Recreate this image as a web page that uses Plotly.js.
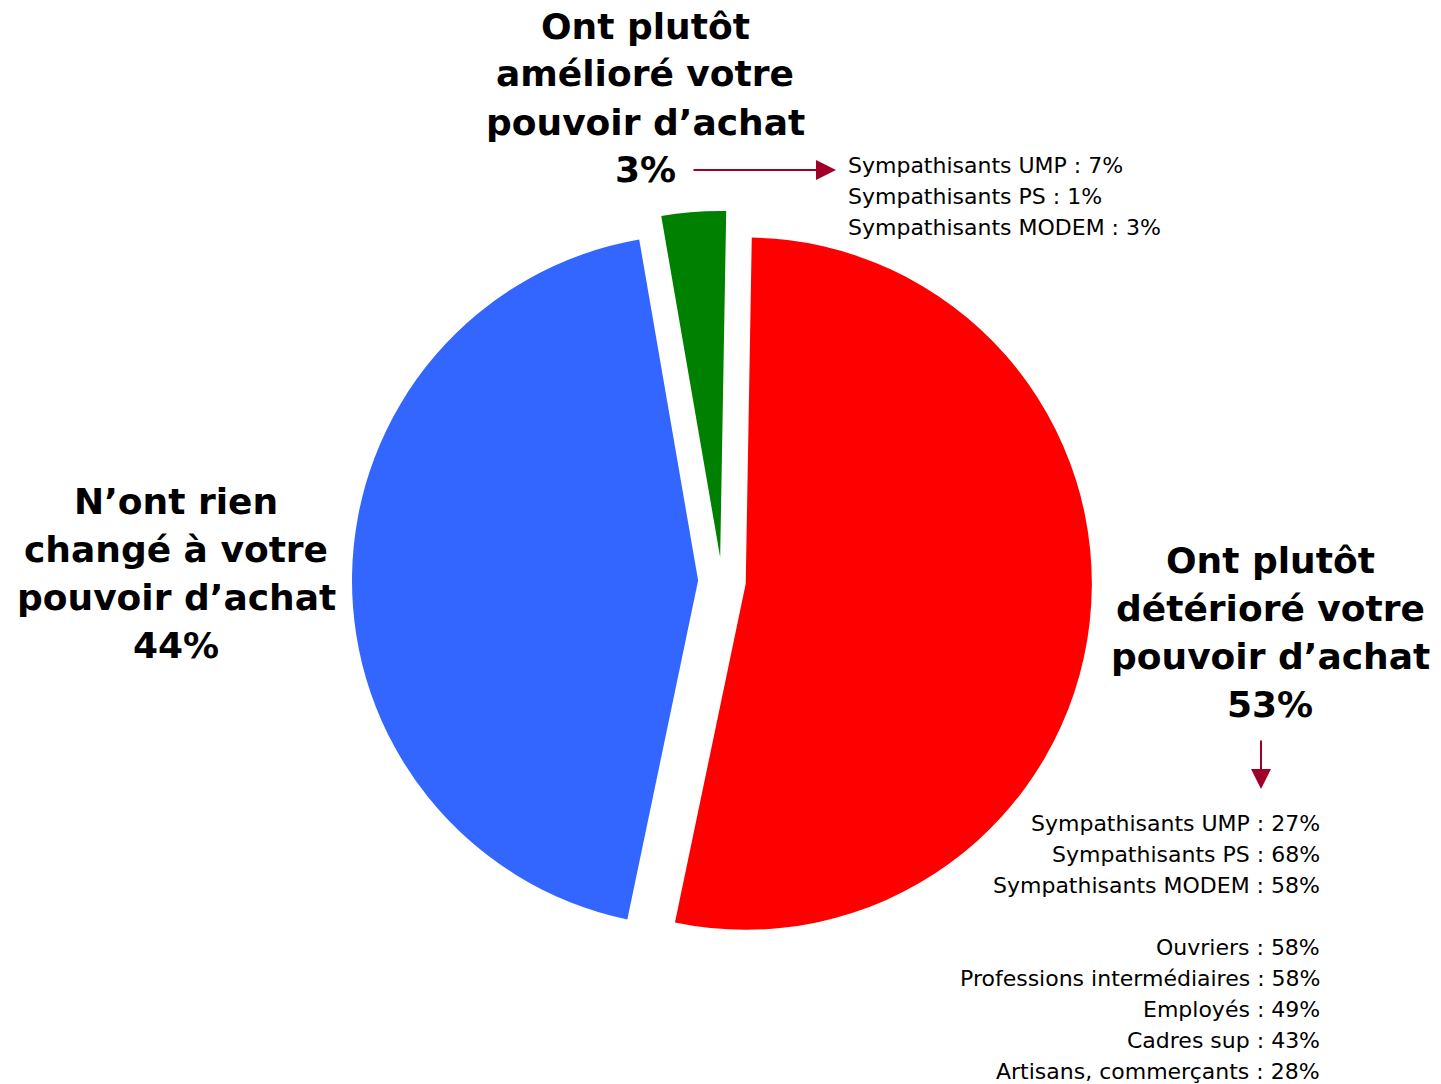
<!DOCTYPE html>
<html>
<head>
<meta charset="utf-8">
<script src="https://cdn.plot.ly/plotly-3.0.1.min.js"></script>
<style>html,body{margin:0;padding:0;background:#fff;}#chart{width:1441px;height:1084px;}</style>
</head>
<body>
<div id="chart"></div>
<script>
// ---- data ----
const sliceNames = ['Ont plutôt détérioré votre pouvoir d’achat', 'N’ont rien changé à votre pouvoir d’achat', 'Ont plutôt amélioré votre pouvoir d’achat'];
const sliceValues = [53, 44, 3];
const sliceColors = ['#FF0000', '#3366FF', '#008000'];
const sliceLabelLines = [
  ['Ont plutôt', 'détérioré votre', 'pouvoir d’achat'],
  ['N’ont rien', 'changé à votre', 'pouvoir d’achat'],
  ['Ont plutôt', 'amélioré votre', 'pouvoir d’achat']
];
const improvedPartyLabels = ['Sympathisants UMP', 'Sympathisants PS', 'Sympathisants MODEM'];
const improvedPartyValues = [7, 1, 3];
const worsenedPartyLabels = ['Sympathisants UMP', 'Sympathisants PS', 'Sympathisants MODEM'];
const worsenedPartyValues = [27, 68, 58];
const worsenedCspLabels = ['Ouvriers', 'Professions intermédiaires', 'Employés', 'Cadres sup', 'Artisans, commerçants'];
const worsenedCspValues = [58, 58, 49, 43, 28];

// ---- layout helpers ----
const W = 1441, H = 1084;
const px = x => x / W;
const py = y => 1 - y / H;
const bigFont = {family: 'DejaVu Sans, Verdana, sans-serif', size: 36, color: '#000'};
const smallFont = {family: 'DejaVu Sans, Verdana, sans-serif', size: 22, color: '#000'};
const arrowColor = '#A00028';

const annotations = [];
function bigLabel(lines, pct, cx, y0) {
  const all = lines.concat([pct + '%']);
  all.forEach((t, i) => annotations.push({
    xref: 'paper', yref: 'paper', x: px(cx), y: py(y0 + i * 48),
    xanchor: 'center', yanchor: 'middle', text: '<b>' + t + '</b>',
    showarrow: false, font: bigFont
  }));
}
function detailList(labels, values, x, y0, anchor) {
  labels.forEach((l, i) => {
    if (l === null) return;
    annotations.push({
      xref: 'paper', yref: 'paper', x: px(x), y: py(y0 + i * 31),
      xanchor: anchor, yanchor: 'middle', text: l + ' : ' + values[i] + '%',
      showarrow: false, font: smallFont
    });
  });
}
// slice labels: red (0), blue (1), green (2)
bigLabel(sliceLabelLines[0], sliceValues[0], 1270, 560);
bigLabel(sliceLabelLines[1], sliceValues[1], 176, 501);
bigLabel(sliceLabelLines[2], sliceValues[2], 645, 26);

detailList(improvedPartyLabels, improvedPartyValues, 846, 165, 'left');
detailList(worsenedPartyLabels.concat([null], worsenedCspLabels),
           worsenedPartyValues.concat([null], worsenedCspValues), 1322, 823, 'right');

// arrows
annotations.push({xref: 'paper', yref: 'paper', x: px(836), y: py(170), ax: -144, ay: 0,
  text: '', showarrow: true, arrowhead: 2, arrowsize: 2, arrowwidth: 2, arrowcolor: arrowColor, standoff: 0});
annotations.push({xref: 'paper', yref: 'paper', x: px(1261), y: py(789), ax: 0, ay: -50,
  text: '', showarrow: true, arrowhead: 2, arrowsize: 2, arrowwidth: 2, arrowcolor: arrowColor, standoff: 0});

const trace = {
  type: 'pie',
  labels: sliceNames,
  values: sliceValues,
  marker: {colors: sliceColors, line: {width: 0}},
  sort: false,
  direction: 'clockwise',
  rotation: 1,
  pull: [0.069, 0.069, 0.069],
  textinfo: 'none',
  hoverinfo: 'label+percent',
  showlegend: false,
  domain: {x: [px(351), px(1093)], y: [py(951), py(211)]}
};

const layout = {
  width: W, height: H,
  margin: {l: 0, r: 0, t: 0, b: 0},
  paper_bgcolor: '#fff', plot_bgcolor: '#fff',
  showlegend: false,
  annotations: annotations
};

Plotly.newPlot('chart', [trace], layout, {displayModeBar: false, staticPlot: true});
</script>
</body>
</html>
